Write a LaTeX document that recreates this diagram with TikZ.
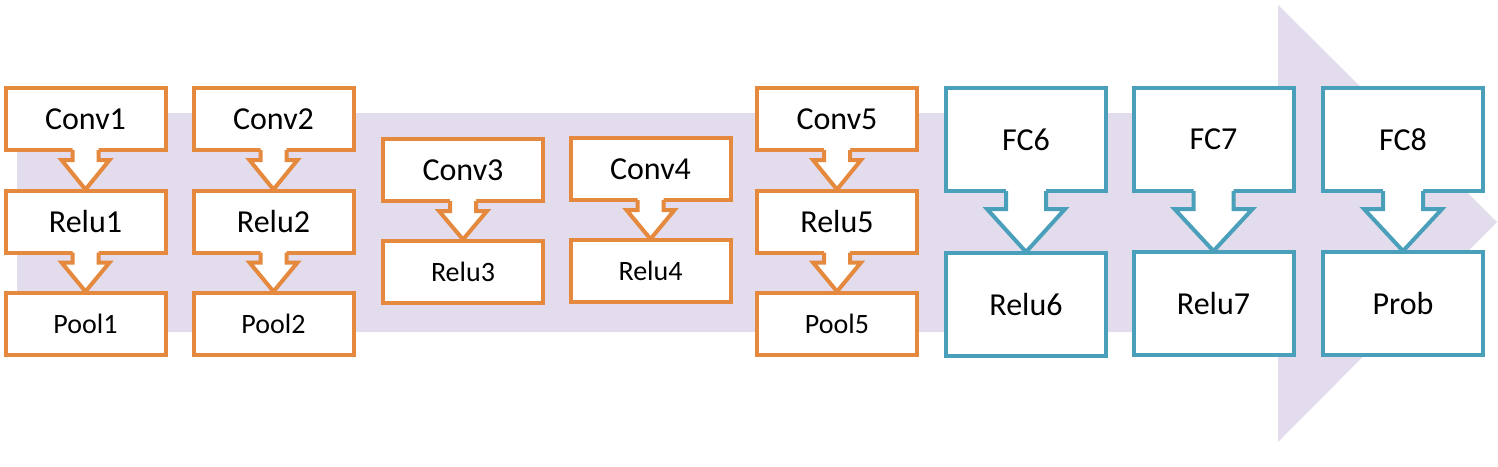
\documentclass[tikz,border=0pt]{standalone}
\usepackage{fontspec}
\setmainfont{Carlito}
\usepackage{tikz}
\usetikzlibrary{calc}
\definecolor{convorange}{RGB}{228,137,62}
\definecolor{fcteal}{RGB}{74,160,186}
\definecolor{flowlilac}{RGB}{226,220,236}
\tikzset{
  layer/.style={draw,line width=2pt,fill=white,inner sep=0pt,outer sep=0pt,
    minimum width=80pt,font=\fontsize{16}{18}\selectfont},
  convbox/.style={layer,draw=convorange,minimum height=31pt},
  fcbox/.style={layer,draw=fcteal,minimum height=51.5pt},
  smalltext/.style={font=\fontsize{14}{16}\selectfont}
}
% block arrow below a box: #1 from, #2 to, #3 colour, #4 stem half, #5 head half, #6 stem length
\newcommand\flowarrow[6]{%
  \fill[white] ($(#1.south)+(-#4,-3)$) -- ($(#1.south)+(-#4,#6)$) -- ($(#1.south)+(-#5,#6)$)
    -- ($(#2.north)+(0,-1)$) -- ($(#1.south)+(#5,#6)$) -- ($(#1.south)+(#4,#6)$)
    -- ($(#1.south)+(#4,-3)$) -- cycle;
  \draw[#3,line width=2pt,line join=miter] ($(#1.south)+(-#4,0)$) -- ($(#1.south)+(-#4,#6)$)
    -- ($(#1.south)+(-#5,#6)$) -- ($(#2.north)+(0,-1)$) -- ($(#1.south)+(#5,#6)$)
    -- ($(#1.south)+(#4,#6)$) -- ($(#1.south)+(#4,0)$);
}
\begin{document}
\begin{tikzpicture}[x=0.5pt,y=-0.5pt]
  \useasboundingbox (0,0) rectangle (1498,466);
  % big background arrow
  \fill[flowlilac] (17,113) -- (1278,113) -- (1278,5) -- (1497,222) -- (1278,442)
    -- (1278,332) -- (17,332) -- cycle;

  \node[convbox] (conv1) at (85.5,119) {Conv1};
  \node[convbox] (relu1) at (85.5,221.5) {Relu1};
  \node[convbox,smalltext] (pool1) at (85.5,323.5) {Pool1};
  \node[convbox] (conv2) at (273.5,119) {Conv2};
  \node[convbox] (relu2) at (273.5,221.5) {Relu2};
  \node[convbox,smalltext] (pool2) at (273.5,323.5) {Pool2};

  \node[convbox] (conv3) at (463,170) {Conv3};
  \node[convbox,smalltext] (relu3) at (463,271.5) {Relu3};
  \node[convbox] (conv4) at (650.5,169) {Conv4};
  \node[convbox,smalltext] (relu4) at (650.5,271) {Relu4};

  \node[convbox] (conv5) at (837,119) {Conv5};
  \node[convbox] (relu5) at (837,221.5) {Relu5};
  \node[convbox,smalltext] (pool5) at (837,323.5) {Pool5};

  \node[fcbox] (fc6) at (1026,139.5) {FC6};
  \node[fcbox] (relu6) at (1026,304.5) {Relu6};
  \node[fcbox] (fc7) at (1213.5,139.5) {FC7};
  \node[fcbox] (relu7) at (1213.5,303.5) {Relu7};
  \node[fcbox] (fc8) at (1403,139.5) {FC8};
  \node[fcbox] (prob) at (1403,303.5) {Prob};

  \flowarrow{conv1}{relu1}{convorange}{13}{24}{10}
  \flowarrow{relu1}{pool1}{convorange}{13}{24}{10}
  \flowarrow{conv2}{relu2}{convorange}{13}{24}{10}
  \flowarrow{relu2}{pool2}{convorange}{13}{24}{10}
  \flowarrow{conv3}{relu3}{convorange}{13}{24}{10}
  \flowarrow{conv4}{relu4}{convorange}{13}{24}{10}
  \flowarrow{conv5}{relu5}{convorange}{13}{24}{10}
  \flowarrow{relu5}{pool5}{convorange}{13}{24}{10}
  \flowarrow{fc6}{relu6}{fcteal}{20}{39}{18}
  \flowarrow{fc7}{relu7}{fcteal}{20}{39}{18}
  \flowarrow{fc8}{prob}{fcteal}{20}{39}{18}
\end{tikzpicture}
\end{document}
